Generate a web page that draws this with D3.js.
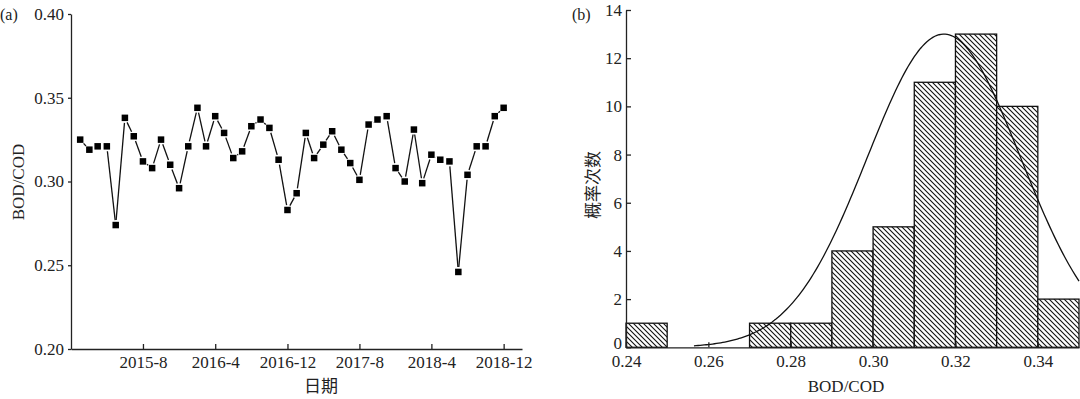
<!DOCTYPE html>
<html>
<head>
<meta charset="utf-8">
<script src="https://cdn.jsdelivr.net/npm/d3@7/dist/d3.min.js"></script>
<style>
	body { margin: 0; background: #fff; }
	svg text { font-family: "Liberation Serif", "Times New Roman", serif; fill: #222; }
	.cjk { font-family: "Noto Sans CJK SC", sans-serif !important; }
	.axis path, .axis line { stroke: #222; stroke-width: 1.3; }
</style>
</head>
<body>
<div id="svg-div"></div>
<script>
// ---- data ----
var months = [
	"2015-01","2015-02","2015-03","2015-04","2015-05","2015-06","2015-07","2015-08","2015-09","2015-10","2015-11","2015-12",
	"2016-01","2016-02","2016-03","2016-04","2016-05","2016-06","2016-07","2016-08","2016-09","2016-10","2016-11","2016-12",
	"2017-01","2017-02","2017-03","2017-04","2017-05","2017-06","2017-07","2017-08","2017-09","2017-10","2017-11","2017-12",
	"2018-01","2018-02","2018-03","2018-04","2018-05","2018-06","2018-07","2018-08","2018-09","2018-10","2018-11","2018-12"
];
var ratio = [
	0.325, 0.319, 0.321, 0.321, 0.274, 0.338, 0.327, 0.312, 0.308, 0.325, 0.310, 0.296,
	0.321, 0.344, 0.321, 0.339, 0.329, 0.314, 0.318, 0.333, 0.337, 0.332, 0.313, 0.283,
	0.293, 0.329, 0.314, 0.322, 0.330, 0.319, 0.311, 0.301, 0.334, 0.337, 0.339, 0.308,
	0.300, 0.331, 0.299, 0.316, 0.313, 0.312, 0.246, 0.304, 0.321, 0.321, 0.339, 0.344
];
var dateTicks = ["2015-08","2016-04","2016-12","2017-08","2018-04","2018-12"];
var dateTickLabels = ["2015-8","2016-4","2016-12","2017-8","2018-4","2018-12"];
var ratioTicks = [0.20, 0.25, 0.30, 0.35, 0.40];

var binStarts = [0.24, 0.25, 0.26, 0.27, 0.28, 0.29, 0.30, 0.31, 0.32, 0.33, 0.34];
var binCounts = [1, 0, 0, 1, 1, 4, 5, 11, 13, 10, 2];
var binWidth = 0.01;
var histXTicks = [0.24, 0.26, 0.28, 0.30, 0.32, 0.34];
var histYTicks = [0, 2, 4, 6, 8, 10, 12, 14];
// fitted normal curve
var fitMean = 0.3172, fitSd = 0.0186, fitPeak = 13.0, fitFrom = 0.2565, fitTo = 0.35;

// ---- svg ----
var svg = d3.select("#svg-div").append("svg")
	.attr("width", 1080)
	.attr("height", 399);

var parseMonth = d3.timeParse("%Y-%m");

// ================= (a) time series =================
var xA = d3.scaleTime()
	.domain([new Date(2014, 11, 1), new Date(2019, 1, 1)])
	.range([71, 522]);
var yA = d3.scaleLinear()
	.domain([0.20, 0.40])
	.range([349, 14]);

svg.append("g")
	.attr("class", "axis")
	.attr("transform", "translate(0,349)")
	.call(d3.axisBottom(xA)
		.tickValues(dateTicks.map(parseMonth))
		.tickFormat(function(d, i) { return dateTickLabels[i]; })
		.tickSizeInner(-5).tickSizeOuter(0).tickPadding(7))
	.call(function(g) { g.selectAll("text").attr("font-size", 17); });

svg.append("g")
	.attr("class", "axis")
	.attr("transform", "translate(71,0)")
	.call(d3.axisLeft(yA)
		.tickValues(ratioTicks)
		.tickFormat(d3.format(".2f"))
		.tickSizeInner(3).tickSizeOuter(0).tickPadding(4))
	.call(function(g) { g.selectAll("text").attr("font-size", 17); });

var pts = months.map(function(m, i) {
	return { x: xA(parseMonth(m)), y: yA(ratio[i]) };
});

// line segments, with a small gap next to every symbol
var gap = 5;
var segs = d3.pairs(pts).map(function(p) {
	var dx = p[1].x - p[0].x, dy = p[1].y - p[0].y;
	var len = Math.sqrt(dx * dx + dy * dy);
	if (len <= 2 * gap) return null;
	var ux = dx / len, uy = dy / len;
	return [p[0].x + ux * gap, p[0].y + uy * gap, p[1].x - ux * gap, p[1].y - uy * gap];
}).filter(function(s) { return s; });

svg.append("g").selectAll("line")
	.data(segs)
	.enter()
	.append("line")
	.attr("x1", function(d) { return d[0]; })
	.attr("y1", function(d) { return d[1]; })
	.attr("x2", function(d) { return d[2]; })
	.attr("y2", function(d) { return d[3]; })
	.attr("stroke", "#111")
	.attr("stroke-width", 1.3);

var ms = 6.5;
svg.append("g").selectAll("rect")
	.data(pts)
	.enter()
	.append("rect")
	.attr("x", function(d) { return d.x - ms / 2; })
	.attr("y", function(d) { return d.y - ms / 2; })
	.attr("width", ms)
	.attr("height", ms)
	.attr("fill", "#000");

svg.append("text").attr("x", 0).attr("y", 20).attr("font-size", 16).text("(a)");

svg.append("text")
	.attr("transform", "translate(24,182) rotate(-90)")
	.attr("text-anchor", "middle")
	.attr("font-size", 17)
	.text("BOD/COD");

svg.append("text")
	.attr("class", "cjk")
	.attr("x", 321).attr("y", 392)
	.attr("text-anchor", "middle")
	.attr("font-size", 17)
	.text("日期");

// ================= (b) histogram =================
var xB = d3.scaleLinear().domain([0.24, 0.35]).range([626, 1079]);
var yB = d3.scaleLinear().domain([0, 14]).range([347.3, 10]);

var defs = svg.append("defs");
var pat = defs.append("pattern")
	.attr("id", "hatch")
	.attr("patternUnits", "userSpaceOnUse")
	.attr("width", 5)
	.attr("height", 5);
pat.append("rect").attr("width", 5).attr("height", 5).attr("fill", "#fff");
pat.append("path")
	.attr("d", "M-1,-1 L6,6 M-1,4 L1,6 M4,-1 L6,1")
	.attr("stroke", "#111")
	.attr("stroke-width", 1.1);

defs.append("clipPath").attr("id", "clipB")
	.append("rect").attr("x", 626).attr("y", 0).attr("width", 454).attr("height", 348);

svg.append("g").selectAll("rect")
	.data(binStarts.map(function(b, i) { return { x0: b, n: binCounts[i] }; })
		.filter(function(d) { return d.n > 0; }))
	.enter()
	.append("rect")
	.attr("x", function(d) { return xB(d.x0); })
	.attr("y", function(d) { return yB(d.n); })
	.attr("width", function(d) { return xB(d.x0 + binWidth) - xB(d.x0); })
	.attr("height", function(d) { return yB(0) - yB(d.n); })
	.attr("fill", "url(#hatch)")
	.attr("stroke", "#111")
	.attr("stroke-width", 1.3);

var curveX = d3.range(fitFrom, fitTo + 0.0001, 0.0005);
var curve = d3.line()
	.x(function(v) { return xB(v); })
	.y(function(v) { return yB(fitPeak * Math.exp(-Math.pow(v - fitMean, 2) / (2 * fitSd * fitSd))); });

svg.append("path")
	.datum(curveX)
	.attr("clip-path", "url(#clipB)")
	.attr("d", curve)
	.attr("fill", "none")
	.attr("stroke", "#111")
	.attr("stroke-width", 1.3);

svg.append("g")
	.attr("class", "axis")
	.attr("transform", "translate(0,347.3)")
	.call(d3.axisBottom(xB)
		.tickValues(histXTicks)
		.tickFormat(d3.format(".2f"))
		.tickSizeInner(-5).tickSizeOuter(0).tickPadding(8))
	.call(function(g) { g.selectAll("text").attr("font-size", 17); });

svg.append("g")
	.attr("class", "axis")
	.attr("transform", "translate(626,0)")
	.call(d3.axisLeft(yB)
		.tickValues(histYTicks)
		.tickSizeInner(-5).tickSizeOuter(0).tickPadding(4))
	.call(function(g) {
		g.selectAll("text").attr("font-size", 17);
		// keep the "0" clear of the "0.24" below it
		g.selectAll(".tick text").filter(function(d) { return d === 0; }).attr("dy", "0.05em");
	});

svg.append("text").attr("x", 572).attr("y", 20).attr("font-size", 16).text("(b)");

svg.append("text")
	.attr("class", "cjk")
	.attr("transform", "translate(599,185) rotate(-90)")
	.attr("text-anchor", "middle")
	.attr("font-size", 17)
	.text("概率次数");

svg.append("text")
	.attr("x", 846).attr("y", 392)
	.attr("text-anchor", "middle")
	.attr("font-size", 17)
	.text("BOD/COD");
</script>
</body>
</html>
